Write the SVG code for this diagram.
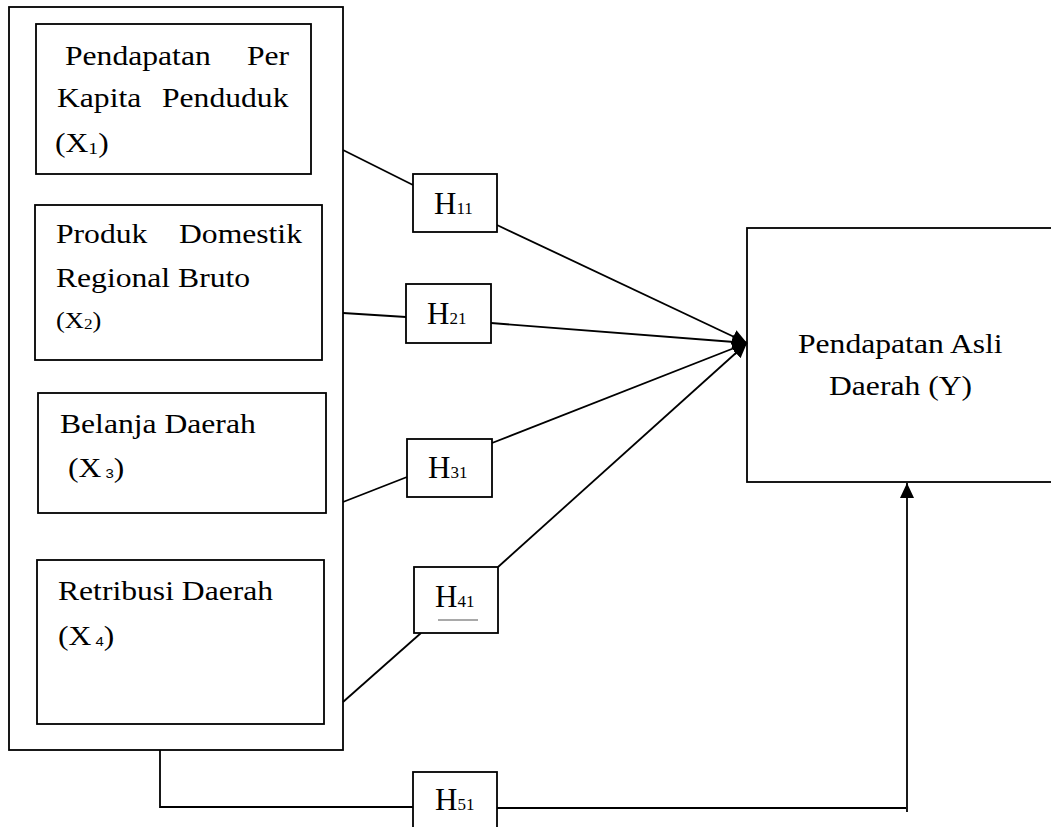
<svg xmlns="http://www.w3.org/2000/svg" width="1051" height="827" viewBox="0 0 1051 827">
<style>
.box{fill:#fff;stroke:#000;stroke-width:1.8}
.ln{fill:none;stroke:#000;stroke-width:1.8}
.t{font-family:"Liberation Serif","Times New Roman",serif;font-size:27.5px;fill:#000}
.h{font-family:"Liberation Serif","Times New Roman",serif;font-size:31px;fill:#000}
.hs{font-size:17px}
.s{font-size:17px}
.ss{font-family:"Liberation Sans",Arial,sans-serif;font-size:13px}
</style>
<defs>
<marker id="ah" markerUnits="userSpaceOnUse" markerWidth="15" markerHeight="14" viewBox="0 0 15 14" refX="15" refY="7" orient="auto">
<path d="M0,0 L15,7 L0,14 z" fill="#000"/>
</marker>
</defs>
<rect width="1051" height="827" fill="#fff"/>

<g id="outer">
<rect class="box" x="9" y="7" width="334" height="743"/>
</g>

<g id="x1">
<rect class="box" x="36" y="24" width="275" height="150"/>
<text class="t" transform="translate(65,65) scale(1.15,1)">Pendapatan</text>
<text class="t" transform="translate(247,65) scale(1.15,1)">Per</text>
<text class="t" transform="translate(57,107) scale(1.15,1)">Kapita</text>
<text class="t" transform="translate(162,107) scale(1.15,1)">Penduduk</text>
<text class="t" transform="translate(55,152) scale(1.15,1)">(X<tspan class="s" dy="2">1</tspan><tspan dy="-2">)</tspan></text>
</g>

<g id="x2">
<rect class="box" x="35" y="205" width="287" height="155"/>
<text class="t" transform="translate(56,243) scale(1.15,1)">Produk</text>
<text class="t" transform="translate(179,243) scale(1.15,1)">Domestik</text>
<text class="t" transform="translate(56,287) scale(1.15,1)">Regional Bruto</text>
<text class="t" style="font-size:23px" transform="translate(56,328) scale(1.15,1)">(X<tspan style="font-size:15px" dy="1">2</tspan><tspan dy="-1">)</tspan></text>
</g>

<g id="x3">
<rect class="box" x="38" y="393" width="288" height="120"/>
<text class="t" transform="translate(60,433) scale(1.15,1)">Belanja Daerah</text>
<text class="t" transform="translate(68,477) scale(1.15,1)">(X<tspan class="ss" dy="1"> 3</tspan><tspan dy="-1">)</tspan></text>
</g>

<g id="x4">
<rect class="box" x="37" y="560" width="287" height="164"/>
<text class="t" transform="translate(58,600) scale(1.15,1)">Retribusi Daerah</text>
<text class="t" transform="translate(58,645) scale(1.15,1)">(X<tspan class="ss" dy="1"> 4</tspan><tspan dy="-1">)</tspan></text>
</g>

<g id="y">
<rect class="box" x="747" y="228" width="320" height="254"/>
<text class="t" transform="translate(798,353) scale(1.15,1)">Pendapatan Asli</text>
<text class="t" transform="translate(829,395) scale(1.15,1)">Daerah (Y)</text>
</g>

<g id="connectors">
<line class="ln" x1="343" y1="150" x2="413" y2="185"/>
<line class="ln" x1="497" y1="225" x2="747" y2="343" marker-end="url(#ah)"/>
<line class="ln" x1="343" y1="313" x2="406" y2="317"/>
<line class="ln" x1="491" y1="323" x2="747" y2="343" marker-end="url(#ah)"/>
<line class="ln" x1="343" y1="502" x2="407" y2="477"/>
<line class="ln" x1="492" y1="443" x2="747" y2="343" marker-end="url(#ah)"/>
<line class="ln" x1="343" y1="702" x2="421" y2="633"/>
<line class="ln" x1="498" y1="567" x2="747" y2="343" marker-end="url(#ah)"/>
<polyline class="ln" points="160,750 160,807 413,807"/>
<polyline class="ln" points="497,808 906,808"/>
<line class="ln" x1="907" y1="812" x2="907" y2="483" marker-end="url(#ah)"/>
</g>

<g id="h11">
<rect class="box" x="413" y="174" width="84" height="58"/>
<text class="h" x="434" y="214">H<tspan class="hs">11</tspan></text>
</g>
<g id="h21">
<rect class="box" x="406" y="284" width="85" height="59"/>
<text class="h" x="427" y="324">H<tspan class="hs">21</tspan></text>
</g>
<g id="h31">
<rect class="box" x="407" y="439" width="85" height="58"/>
<text class="h" x="428" y="478">H<tspan class="hs">31</tspan></text>
</g>
<g id="h41">
<rect class="box" x="414" y="567" width="84" height="66"/>
<text class="h" x="435" y="607">H<tspan class="hs">41</tspan></text>
<line x1="438" y1="620" x2="478" y2="620" stroke="#555" stroke-width="1.2"/>
</g>
<g id="h51">
<rect class="box" x="413" y="772" width="84" height="70"/>
<text class="h" x="435" y="810">H<tspan class="hs">51</tspan></text>
</g>
</svg>
